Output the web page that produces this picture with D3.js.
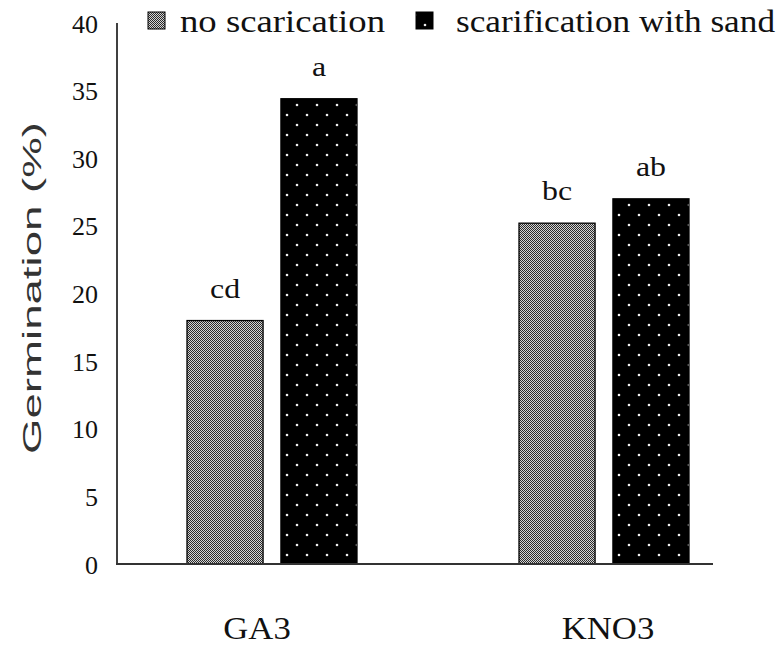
<!DOCTYPE html>
<html>
<head>
<meta charset="utf-8">
<script src="https://cdn.jsdelivr.net/npm/d3@7"></script>
<style>
  html, body { margin: 0; padding: 0; background: #fff; overflow: hidden; }
  svg { display: block; }
</style>
</head>
<body>
<div id="chart"></div>
<script>
// Germination (%) by treatment and scarification method
const categories = ["GA3", "KNO3"];
const seriesNames = ["no scarication", "scarification with sand"];
const noScarification = [18.0, 25.2];
const sandScarification = [34.4, 27.0];
const letterNoScar = ["cd", "bc"];
const letterSand = ["a", "ab"];
const yTicks = [0, 5, 10, 15, 20, 25, 30, 35, 40];

const W = 783, H = 647;
const svg = d3.select("#chart").append("svg")
  .attr("width", W).attr("height", H);

const defs = svg.append("defs");

// fine grey checker fill
const chk = defs.append("pattern")
  .attr("id", "chk").attr("patternUnits", "userSpaceOnUse")
  .attr("width", 2).attr("height", 2);
chk.append("rect").attr("width", 2).attr("height", 2).attr("fill", "#d4d4d4");
chk.append("rect").attr("x", 0).attr("y", 0).attr("width", 1).attr("height", 1).attr("fill", "#2a2a2a");
chk.append("rect").attr("x", 1).attr("y", 1).attr("width", 1).attr("height", 1).attr("fill", "#2a2a2a");

// black fill with sparse white dots
const dots = defs.append("pattern")
  .attr("id", "dots").attr("patternUnits", "userSpaceOnUse")
  .attr("width", 20).attr("height", 20);
dots.append("rect").attr("width", 20).attr("height", 20).attr("fill", "#000");
dots.append("circle").attr("cx", 5).attr("cy", 5).attr("r", 1.3).attr("fill", "#eee");
dots.append("circle").attr("cx", 15).attr("cy", 15).attr("r", 1.3).attr("fill", "#eee");

const fills = ["url(#chk)", "url(#dots)"];

const y = d3.scaleLinear().domain([0, 40]).range([564, 23]);
const xAxisStart = 117, xAxisEnd = 713;

const x0 = d3.scalePoint().domain(categories).range([272, 604]);
const x1 = d3.scaleBand().domain(seriesNames).range([-85, 85]).paddingInner(0.19);

const rows = categories.map((c, i) => ({
  cat: c,
  vals: [
    { s: seriesNames[0], v: noScarification[i], lab: letterNoScar[i], f: fills[0] },
    { s: seriesNames[1], v: sandScarification[i], lab: letterSand[i], f: fills[1] }
  ]
}));

const serif = "'Liberation Serif', 'Times New Roman', serif";

// bars
const groups = svg.selectAll("g.grp").data(rows).enter().append("g")
  .attr("class", "grp")
  .attr("transform", d => `translate(${x0(d.cat)},0)`);

groups.selectAll("rect").data(d => d.vals).enter().append("rect")
  .attr("x", d => x1(d.s))
  .attr("y", d => y(d.v))
  .attr("width", x1.bandwidth())
  .attr("height", d => y(0) - y(d.v))
  .attr("fill", d => d.f)
  .attr("stroke", "#000")
  .attr("stroke-width", 1.3);

// significance letters
groups.selectAll("text.sig").data(d => d.vals).enter().append("text")
  .attr("class", "sig")
  .attr("transform", d => `translate(${x1(d.s) + x1.bandwidth() / 2},${y(d.v) - 23}) scale(1.18,1)`)
  .attr("text-anchor", "middle")
  .attr("font-family", serif)
  .attr("font-size", 27)
  .attr("fill", "#111")
  .text(d => d.lab);

// axes lines
svg.append("line")
  .attr("x1", xAxisStart).attr("x2", xAxisStart)
  .attr("y1", y(40)).attr("y2", y(0))
  .attr("stroke", "#000").attr("stroke-width", 1.5);
svg.append("line")
  .attr("x1", xAxisStart - 1).attr("x2", xAxisEnd)
  .attr("y1", y(0)).attr("y2", y(0))
  .attr("stroke", "#333").attr("stroke-width", 2);

// y tick labels
const yAxis = d3.axisLeft(y).tickValues(yTicks).tickSize(0).tickPadding(0);
const yg = svg.append("g").attr("transform", "translate(98,0)").call(yAxis);
yg.select(".domain").remove();
yg.selectAll("text")
  .attr("font-family", serif)
  .attr("font-size", 26)
  .attr("fill", "#111")
  .attr("dy", "0.35em");

// category labels
const catNudge = [-15, 4];
svg.selectAll("text.cat").data(categories).enter().append("text")
  .attr("class", "cat")
  .attr("transform", (d, i) => `translate(${x0(d) + catNudge[i]},639) scale(1.12,1)`)
  .attr("text-anchor", "middle")
  .attr("font-family", serif)
  .attr("font-size", 31)
  .attr("fill", "#111")
  .text(d => d);

// y title
svg.append("text")
  .attr("transform", "translate(41,288) rotate(-90)")
  .attr("text-anchor", "middle")
  .attr("font-family", "'Liberation Sans', Arial, sans-serif")
  .attr("font-size", 25)
  .attr("fill", "#333")
  .attr("textLength", 332)
  .attr("lengthAdjust", "spacingAndGlyphs")
  .text("Germination (%)");

// legend
const legendItems = [
  { name: seriesNames[0], f: fills[0], bx: 148, tx: 180, len: 205 },
  { name: seriesNames[1], f: fills[1], bx: 416, tx: 456, len: 319 }
];
const lg = svg.selectAll("g.leg").data(legendItems).enter().append("g").attr("class", "leg");
lg.append("rect")
  .attr("x", d => d.bx).attr("y", 12)
  .attr("width", 17).attr("height", 17)
  .attr("fill", d => d.f)
  .attr("stroke", "#000").attr("stroke-width", 1);
lg.append("text")
  .attr("x", d => d.tx).attr("y", 32)
  .attr("font-family", serif)
  .attr("font-size", 32)
  .attr("fill", "#111")
  .attr("textLength", d => d.len)
  .attr("lengthAdjust", "spacingAndGlyphs")
  .text(d => d.name);
</script>
</body>
</html>
